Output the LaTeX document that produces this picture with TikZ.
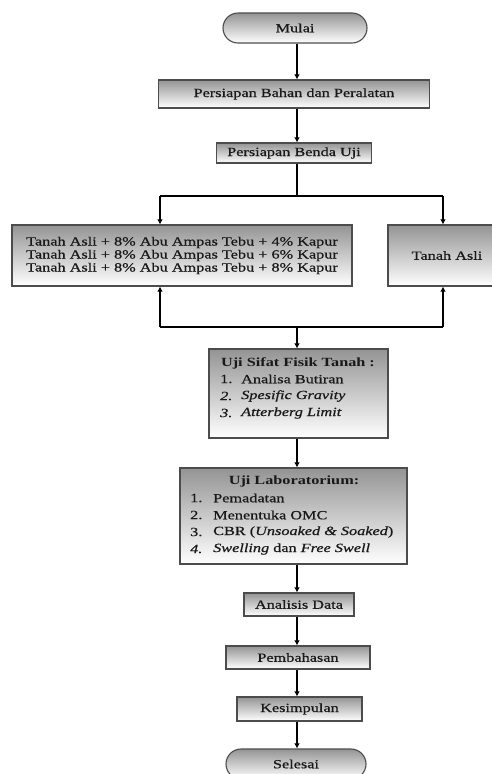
\documentclass[tikz,border=0pt]{standalone}
\usepackage{fontspec}
\setmainfont{Liberation Serif}[FakeStretch=1.3,
  UprightFeatures={FakeBold=0.7}, ItalicFeatures={FakeBold=0.7}]
\usetikzlibrary{shapes.misc,arrows.meta}
\begin{document}
\begin{tikzpicture}[x=1pt,y=-1pt,
  box/.style={draw=black!70, line width=1.1pt, top color=black!42, bottom color=white,
    inner sep=0pt, font=\fontsize{12.5}{13}\selectfont, text=black!90},
  term/.style={box, rounded rectangle},
  txt/.style={inner sep=0pt, font=\fontsize{12.5}{13}\selectfont, text=black!90},
  arr/.style={line width=1.9pt, -{Latex[length=5pt,width=5.5pt]}},
  conn/.style={line width=1.9pt}]
\useasboundingbox (0,0) rectangle (492,774);
\fill[white] (0,0) rectangle (492,774);
\clip (0,0) rectangle (492,774);

% main nodes
\node[term, minimum width=144pt, minimum height=30pt] (mulai) at (295,28) {Mulai};
\node[box, minimum width=271pt, minimum height=28pt] (bahan) at (294,94) {Persiapan Bahan dan Peralatan};
\node[box, minimum width=155pt, minimum height=20pt] (benda) at (294,153) {Persiapan Benda Uji};
\node[box, minimum width=340pt, minimum height=61pt, align=center] (campur) at (182,255.5)
  {Tanah Asli + 8\% Abu Ampas Tebu + 4\% Kapur\\
   Tanah Asli + 8\% Abu Ampas Tebu + 6\% Kapur\\
   Tanah Asli + 8\% Abu Ampas Tebu + 8\% Kapur};
\node[box, minimum width=106pt, minimum height=61pt] (asli) at (441,255.5) {\hspace{12pt}Tanah Asli};
\node[box, minimum width=179pt, minimum height=89pt] (fisik) at (298.5,393.5) {};
\node[box, minimum width=227pt, minimum height=96pt] (lab) at (293.5,516) {};
\node[box, minimum width=110pt, minimum height=23pt] (analisis) at (299,604.5) {Analisis Data};
\node[box, minimum width=144pt, minimum height=23pt] (bahas) at (298,657.5) {Pembahasan};
\node[box, minimum width=125pt, minimum height=24pt] (simpul) at (299.5,709) {Kesimpulan};
\node[term, minimum width=140pt, minimum height=30pt] (selesai) at (296,764) {Selesai};

% text of Uji Sifat Fisik Tanah
\node[txt, font=\fontsize{12.5}{13}\selectfont\bfseries] (fh) at (298,363) {Uji Sifat Fisik Tanah :};
\node[txt, anchor=west] (f1n) at (220,379) {1.};
\node[txt, anchor=west] (f1) at (241,379) {Analisa Butiran};
\node[txt, anchor=west] (f2n) at (220,396) {\itshape 2.};
\node[txt, anchor=west] (f2) at (241,396) {\itshape Spesific Gravity};
\node[txt, anchor=west] (f3n) at (220,413) {\itshape 3.};
\node[txt, anchor=west] (f3) at (241,413) {\itshape Atterberg Limit};

% text of Uji Laboratorium
\node[txt, font=\fontsize{12.5}{13}\selectfont\bfseries] (lh) at (294,481) {Uji Laboratorium:};
\node[txt, anchor=west] (l1n) at (190,498) {1.};
\node[txt, anchor=west] (l1) at (213,498) {Pemadatan};
\node[txt, anchor=west] (l2n) at (190,515) {2.};
\node[txt, anchor=west] (l2) at (213,515) {Menentuka OMC};
\node[txt, anchor=west] (l3n) at (190,532) {3.};
\node[txt, anchor=west] (l3) at (213,532) {CBR (\textit{Unsoaked \& Soaked})};
\node[txt, anchor=west] (l4n) at (190,549) {\itshape 4.};
\node[txt, anchor=west] (l4) at (213,549) {\textit{Swelling} dan \textit{Free Swell}};

% helper coordinates
\coordinate (split) at (297,196);
\coordinate (sl) at (160,196);
\coordinate (sr) at (443,196);
\coordinate (join) at (297,327);
\coordinate (jl) at (160,327);
\coordinate (jr) at (443,327);

% connectors
\draw[arr] (mulai.south -| split) -- (bahan.north -| split);
\draw[arr] (bahan.south -| split) -- (benda.north -| split);
\draw[conn] (benda.south -| split) -- (split);
\draw[conn] (sl) -- (sr);
\draw[arr] (sl) -- (sl |- campur.north);
\draw[arr] (sr) -- (sr |- asli.north);
\draw[conn] (jl) -- (jr);
\draw[arr] (jl) -- (jl |- campur.south);
\draw[arr] (jr) -- (jr |- asli.south);
\draw[arr] (join) -- (join |- fisik.north);
\draw[arr] (fisik.south -| join) -- (lab.north -| join);
\draw[arr] (lab.south -| join) -- (analisis.north -| join);
\draw[arr] (analisis.south -| join) -- (bahas.north -| join);
\draw[arr] (bahas.south -| join) -- (simpul.north -| join);
\draw[arr] (simpul.south -| join) -- (selesai.north -| join);
\end{tikzpicture}
\end{document}
